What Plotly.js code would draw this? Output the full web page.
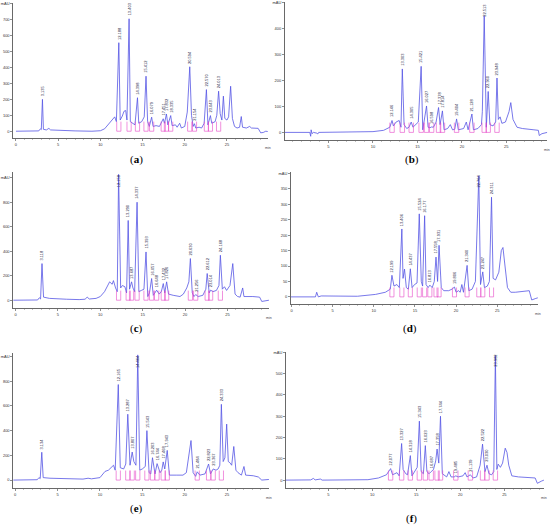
<!DOCTYPE html>
<html>
<head>
<meta charset="utf-8">
<script src="https://cdn.plot.ly/plotly-3.0.1.min.js"></script>
<style>html,body{margin:0;padding:0;background:#fff;}#chart{width:550px;height:525px;}</style>
</head>
<body>
<div id="chart"></div>
<script>
// ---------- Panel (a) ----------
const aTime = [0,2.7,2.9,3.0,3.135,3.25,3.6,3.9,4.1,5,7,9,10,10.5,11,11.4,11.7,11.9,12.188,12.35,12.6,12.8,13.0,13.15,13.403,13.55,13.8,14.1,14.398,14.55,14.9,15.2,15.412,15.6,15.8,16.079,16.25,16.6,17.0,17.2,17.451,17.6,17.832,18.0,18.335,18.5,18.9,19.1,19.4,19.6,20.0,20.3,20.594,20.8,21.0,21.154,21.3,21.7,22.0,22.3,22.57,22.75,23.043,23.2,23.6,23.8,24.013,24.2,24.4,24.58,24.75,25.0,25.2,25.44,25.65,25.9,26.2,26.5,26.7,26.85,27.3,27.7,27.9,28.7,29.0,29.3,29.6,29.85];
const aSignal = [0,2,15,10,200,12,8,18,8,5,2,0,3,15,45,75,90,60,555,70,95,125,130,70,705,60,50,40,210,50,60,90,345,60,30,88,30,35,30,50,78,50,108,40,98,35,40,25,50,20,30,120,404,100,30,47,20,25,20,50,261,40,98,50,60,100,251,110,70,220,80,70,90,282,80,30,20,25,92,25,20,30,20,18,-10,-8,0,-2];
const aPeakTime = [3.135,12.188,13.403,14.398,15.412,16.079,17.451,17.832,18.335,20.594,21.154,22.57,23.043,24.013];
const aPeakHeight = [200,555,705,210,345,88,78,108,98,404,47,261,98,251];
const aPeakLabel = ["3.135","12.188","13.403","14.398","15.412","16.079","17.451","17.832","18.335","20.594","21.154","22.570","23.043","24.013"];
const aYTicks = [0,100,200,300,400,500,600,700,800];
const aYTickText = ["0","100","200","300","400","500","600","700","mAU"];

// ---------- Panel (b) ----------
const bTime = [0.1,2.9,3.0,3.05,3.15,3.3,3.7,3.8,3.9,8,10,11.2,11.5,11.9,12.146,12.3,12.6,12.95,13.15,13.303,13.5,13.8,14.05,14.305,14.5,14.8,15.1,15.421,15.6,16.027,16.2,16.4,16.598,16.8,17.1,17.378,17.55,17.814,18.0,18.4,18.7,18.95,19.2,19.404,19.6,20.2,20.5,20.7,21.128,21.3,21.8,22.2,22.3,22.513,22.75,22.96,23.15,23.5,23.8,23.948,24.1,24.3,24.5,24.9,25.3,25.5,25.75,26.2,26.8,28.1,28.6,28.7,29.0,29.6];
const bSignal = [0,0,-15,10,-5,0,-3,-6,0,1,3,8,12,20,46,25,40,46,20,245,30,15,20,40,20,30,40,255,10,102,20,18,21,20,40,96,30,83,10,15,30,10,12,52,10,15,40,10,71,10,15,30,80,450,20,158,30,25,40,210,50,60,35,40,80,115,50,20,15,10,8,-12,-5,0];
const bPeakTime = [12.146,13.303,14.305,15.421,16.027,16.598,17.378,17.814,19.404,21.128,22.513,22.96,23.948];
const bPeakHeight = [46,245,40,255,102,21,96,83,52,71,450,158,210];
const bPeakLabel = ["12.146","13.303","14.305","15.421","16.027","16.598","17.378","17.814","19.404","21.128","22.513","22.960","23.948"];
const bYTicks = [0,100,200,300,400,500];
const bYTickText = ["0","100","200","300","400","mAU"];

// ---------- Panel (c) ----------
const cTime = [-0.28,2.6,2.8,2.95,3.118,3.3,4.0,5,6,7.5,8.2,8.45,8.7,9.5,10.0,10.5,10.75,11.1,11.4,11.55,11.8,12.0,12.158,12.4,12.6,12.9,13.1,13.29,13.45,13.687,13.85,14.05,14.337,14.55,14.85,15.15,15.393,15.6,15.8,16.057,16.25,16.648,16.95,17.2,17.432,17.6,17.826,18.05,18.6,19.4,19.8,20.2,20.45,20.63,20.85,21.05,21.256,21.55,22.1,22.45,22.612,22.85,23.014,23.3,23.7,24.0,24.168,24.4,24.65,24.9,25.1,25.3,25.63,25.9,26.2,26.5,26.8,26.95,28.0,28.8,29.05,29.6,29.9];
const cSignal = [0,2,20,10,299,25,15,10,8,5,8,25,10,15,30,70,100,150,130,160,100,70,1027,100,120,110,60,651,90,150,100,70,800,70,80,90,394,30,60,177,40,82,50,70,136,60,150,50,40,30,50,100,150,340,60,30,46,30,40,90,218,60,82,70,80,120,367,90,110,80,100,120,299,50,30,25,100,30,30,25,-10,-5,0];
const cPeakTime = [3.118,12.158,13.29,13.687,14.337,15.393,16.057,16.648,17.432,17.826,20.63,21.256,22.612,23.014,24.168];
const cPeakHeight = [299,1027,651,150,800,394,177,82,136,150,340,46,218,82,367];
const cPeakLabel = ["3.118","12.158","13.290","13.687","14.337","15.393","16.057","16.648","17.432","17.826","20.630","21.256","22.612","23.014","24.168"];
const cYTicks = [0,200,400,600,800,1000];
const cYTickText = ["0","200","400","600","800","mAU"];

// ---------- Panel (d) ----------
const dTime = [-0.08,2.9,3.05,3.25,3.6,5,8,10.2,11.4,12.0,12.199,12.45,12.8,13.1,13.406,13.55,13.73,13.95,14.2,14.437,14.65,14.95,15.25,15.524,15.77,15.93,16.177,16.35,16.6,16.813,17.1,17.35,17.558,17.75,17.931,18.2,18.5,19.1,19.5,19.806,20.0,20.3,20.5,20.7,20.9,21.34,21.55,21.95,22.35,22.764,22.97,23.247,23.45,23.8,24.05,24.311,24.5,24.8,25.2,25.5,25.7,25.95,26.25,26.65,27.2,28.9,29.2,29.7,29.95];
const dSignal = [0,0,15,0,3,2,2,8,15,25,70,35,40,30,220,60,90,30,25,91,30,40,45,269,50,35,263,40,30,38,30,50,129,50,167,30,20,20,25,32,15,20,15,40,15,102,20,25,50,392,40,81,30,35,50,323,60,55,80,150,160,100,30,15,15,20,-10,-5,-3];
const dPeakTime = [12.199,13.406,14.437,15.524,16.177,16.813,17.558,17.931,19.806,21.34,22.764,23.247,24.311];
const dPeakHeight = [70,220,91,269,263,38,129,167,32,102,392,81,323];
const dPeakLabel = ["12.199","13.406","14.437","15.524","16.177","16.813","17.558","17.931","19.806","21.340","22.764","23.247","24.311"];
const dYTicks = [0,50,100,150,200,250,300,350,400];
const dYTickText = ["0","50","100","150","200","250","300","350","mAU"];

// ---------- Panel (e) ----------
const eTime = [-0.24,2.6,2.8,2.95,3.134,3.3,4.1,6,8.0,8.6,9.0,10.0,10.6,11.0,11.3,11.6,11.8,12.165,12.4,12.8,13.05,13.287,13.55,13.807,14.0,14.25,14.464,14.7,15.0,15.35,15.543,15.8,16.0,16.203,16.5,16.744,17.1,17.3,17.468,17.65,17.943,18.2,19.0,19.8,20.2,20.5,20.75,21.0,21.3,21.484,21.8,22.4,22.65,22.823,23.05,23.367,23.7,23.95,24.15,24.333,24.55,24.75,24.96,25.15,25.35,25.55,25.8,26.05,26.3,26.7,27.0,27.2,28.1,28.7,29.1,29.7,29.95];
const eSignal = [0,3,20,12,225,20,15,10,8,15,10,20,70,80,100,120,80,773,100,90,130,533,120,227,150,120,1013,80,90,110,400,60,50,181,50,133,60,80,147,90,240,40,40,40,60,200,320,60,30,67,40,50,90,130,50,90,80,90,120,613,150,180,453,150,140,120,272,80,60,40,110,40,35,25,0,5,5];
const ePeakTime = [3.134,12.165,13.287,13.807,14.464,15.543,16.203,16.744,17.468,17.943,21.484,22.823,23.367,24.333];
const ePeakHeight = [225,773,533,227,1013,400,181,133,147,240,67,130,90,613];
const ePeakLabel = ["3.134","12.165","13.287","13.807","14.464","15.543","16.203","16.744","17.468","17.943","21.484","22.823","23.367","24.333"];
const eYTicks = [0,200,400,600,800,1000];
const eYTickText = ["0","200","400","600","800","mAU"];

// ---------- Panel (f) ----------
const fTime = [0.19,3.0,3.3,3.5,4.1,4.3,9.5,10.7,11.6,12.077,12.3,12.8,13.05,13.327,13.5,13.8,14.0,14.318,14.5,14.85,15.1,15.343,15.55,15.8,16.023,16.2,16.45,16.687,16.95,17.2,17.358,17.55,17.744,17.95,18.45,18.7,18.95,19.3,19.485,19.75,20.3,20.55,20.75,21.139,21.45,21.85,22.25,22.522,22.8,23.03,23.25,23.55,23.8,23.982,24.15,24.3,24.55,24.8,25.1,25.3,25.5,25.85,26.6,28.5,28.75,29.2,29.5];
const fSignal = [0,1,8,1,5,0,2,10,25,54,25,35,20,172,50,30,25,115,20,40,60,277,40,30,162,40,30,40,50,90,146,80,300,30,15,40,15,15,20,15,20,35,15,25,10,15,70,169,40,70,30,25,40,585,50,75,60,80,150,130,70,20,15,10,-15,-5,0];
const fPeakTime = [12.077,13.327,14.318,15.343,16.023,16.687,17.358,17.744,19.485,21.139,22.522,23.03,23.982];
const fPeakHeight = [54,172,115,277,162,40,146,300,20,25,169,70,585];
const fPeakLabel = ["12.077","13.327","14.318","15.343","16.023","16.687","17.358","17.744","19.485","21.139","22.522","23.030","23.982"];
const fYTicks = [0,100,200,300,400,500,600];
const fYTickText = ["0","100","200","300","400","500","mAU"];

const panelTags = ["a","b","c","d","e","f"];

const panels = [
  {t:aTime,s:aSignal,pt:aPeakTime,ph:aPeakHeight,pl:aPeakLabel,yt:aYTicks,ytt:aYTickText,xr:[-0.33,29.85],yr:[-43,803],xd:[0.024,0.487],yd:[0.737,0.994],lx:0.249,ly:0.697},
  {t:bTime,s:bSignal,pt:bPeakTime,ph:bPeakHeight,pl:bPeakLabel,yt:bYTicks,ytt:bYTickText,xr:[0.1,29.6],yr:[-30,503],xd:[0.518,0.995],yd:[0.733,0.996],lx:0.749,ly:0.697},
  {t:cTime,s:cSignal,pt:cPeakTime,ph:cPeakHeight,pl:cPeakLabel,yt:cYTicks,ytt:cYTickText,xr:[-0.28,29.9],yr:[-65,1045],xd:[0.024,0.489],yd:[0.413,0.672],lx:0.249,ly:0.375},
  {t:dTime,s:dSignal,pt:dPeakTime,ph:dPeakHeight,pl:dPeakLabel,yt:dYTicks,ytt:dYTickText,xr:[-0.08,29.95],yr:[-23,404],xd:[0.529,0.978],yd:[0.421,0.672],lx:0.746,ly:0.375},
  {t:eTime,s:eSignal,pt:ePeakTime,ph:ePeakHeight,pl:ePeakLabel,yt:eYTicks,ytt:eYTickText,xr:[-0.24,29.95],yr:[-64,1030],xd:[0.024,0.489],yd:[0.0705,0.328],lx:0.249,ly:0.032},
  {t:fTime,s:fSignal,pt:fPeakTime,ph:fPeakHeight,pl:fPeakLabel,yt:fYTicks,ytt:fYTickText,xr:[0.19,29.5],yr:[-37,603],xd:[0.52,0.989],yd:[0.0705,0.330],lx:0.749,ly:0.013}
];

const traces = [];
const annotations = [];
const layout = {
  width:550, height:525, margin:{l:0,r:0,t:0,b:0},
  paper_bgcolor:"#fff", plot_bgcolor:"#fff", showlegend:false,
  font:{family:"Liberation Sans, Arial, sans-serif", size:4, color:"#333"}
};

panels.forEach((p,i)=>{
  const n = i===0 ? "" : String(i+1);
  const xa = "x"+n, ya = "y"+n;
  traces.push({x:p.t, y:p.s, xaxis:xa, yaxis:ya, type:"scatter", mode:"lines",
    line:{color:"rgb(85,85,228)", width:0.8}, hoverinfo:"skip"});
  // integration baseline marks
  const ix=[], iy=[];
  const bh = p.yr[1]*0.075;
  p.pt.forEach((t)=>{
    if (t < 10) return;
    ix.push(t-0.25,t-0.25,t+0.25,t+0.25,null);
    iy.push(bh,0,0,bh,null);
  });
  traces.push({x:ix, y:iy, xaxis:xa, yaxis:ya, type:"scatter", mode:"lines",
    line:{color:"rgb(230,70,200)", width:0.6}, connectgaps:false, hoverinfo:"skip"});
  // peak labels
  const plotPx = (p.yd[1]-p.yd[0])*525;
  const unitsPerPx = (p.yr[1]-p.yr[0])/plotPx;
  p.pt.forEach((t,k)=>{
    const tooTall = p.ph[k] + 15*unitsPerPx > p.yr[1];
    annotations.push({x:t, y: tooTall ? p.yr[1] : p.ph[k], xref:xa, yref:ya, text:p.pl[k], textangle:-90,
      showarrow:false, xanchor:"center", yanchor: tooTall ? "top" : "bottom", yshift: tooTall ? 0 : 1,
      font:{size:4, color:"#1a1a40"}});
  });
  annotations.push({x:p.xd[1], y:p.yd[0]-0.012, xref:"paper", yref:"paper", text:"min",
    showarrow:false, xanchor:"center", yanchor:"top", font:{size:3.5,color:"#444"}});
  annotations.push({x:p.lx, y:p.ly, xref:"paper", yref:"paper", text:"(<b>"+panelTags[i]+"</b>)",
    showarrow:false, xanchor:"center", yanchor:"middle",
    font:{family:"Liberation Serif, DejaVu Serif, serif", size:11, color:"#000"}});

  layout["xaxis"+n] = {domain:p.xd, range:p.xr, anchor:ya, showline:true, linecolor:"#444", linewidth:0.8,
    ticks:"outside", ticklen:2.5, tickwidth:0.6, tickcolor:"#444", tick0:0, dtick:5,
    tickfont:{size:4,color:"#333"}, showgrid:false, zeroline:false,
    minor:{dtick:1, ticks:"outside", ticklen:1.5, tickwidth:0.4, tickcolor:"#666", showgrid:false}};
  layout["yaxis"+n] = {domain:p.yd, range:p.yr, anchor:xa, showline:true, linecolor:"#444", linewidth:0.8,
    ticks:"outside", ticklen:2, tickwidth:0.6, tickcolor:"#444", tickmode:"array", tickvals:p.yt, ticktext:p.ytt,
    tickfont:{size:4,color:"#333"}, showgrid:false, zeroline:false};
});

layout.annotations = annotations;
Plotly.newPlot("chart", traces, layout, {displayModeBar:false, staticPlot:true});
</script>
</body>
</html>
